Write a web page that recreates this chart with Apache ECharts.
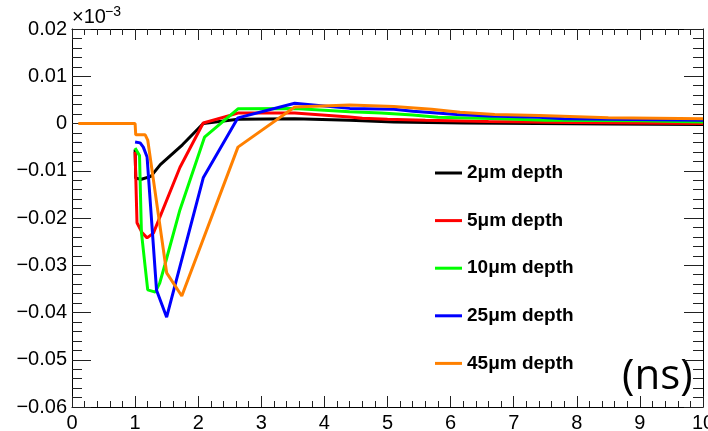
<!DOCTYPE html>
<html>
<head>
<meta charset="utf-8">
<script src="https://cdn.jsdelivr.net/npm/echarts@6/dist/echarts.min.js"></script>
<style>
html,body{margin:0;padding:0;background:#fff;}
#c{width:708px;height:431px;}
</style>
</head>
<body>
<div id="c"></div>
<script>
// ---- data (time in ns, signal in units of 10^-3) ----
var seriesNames = ['2\u03bcm depth', '5\u03bcm depth', '10\u03bcm depth', '25\u03bcm depth', '45\u03bcm depth'];
var seriesColors = ['#000000', '#ff0000', '#00ff00', '#0000ff', '#ff8000'];

var x2um = [1.0, 1.01, 1.1, 1.25, 1.4, 1.75, 2.08, 2.63, 3.53, 4.4, 5.1, 6.2, 8.5, 10];
var y2um = [-0.0055, -0.0116, -0.0118, -0.0112, -0.0087, -0.0045, 0.0, 0.0009, 0.0010, 0.0007, 0.0003, 0.0001, -0.0001, -0.0002];

var x5um = [1.0, 1.03, 1.11, 1.19, 1.29, 1.71, 2.08, 2.63, 3.53, 4.4, 4.6, 5.0, 5.6, 6.6, 7.9, 10];
var y5um = [-0.0060, -0.0210, -0.0231, -0.0242, -0.0232, -0.0093, 0.0001, 0.0022, 0.0022, 0.0014, 0.0011, 0.0009, 0.0007, 0.0004, 0.0002, 0.0];

var x10um = [1.0, 1.07, 1.1, 1.16, 1.2, 1.32, 1.39, 1.47, 1.71, 2.1, 2.63, 3.53, 4.4, 4.9, 5.4, 5.8, 6.8, 7.5, 9.0, 10];
var y10um = [-0.0052, -0.0068, -0.0230, -0.0304, -0.0352, -0.0357, -0.0338, -0.0300, -0.0183, -0.0029, 0.0031, 0.0032, 0.0025, 0.0022, 0.0018, 0.0013, 0.0010, 0.0007, 0.0006, 0.0003];

var x25um = [1.0, 1.08, 1.13, 1.19, 1.34, 1.5, 2.08, 2.63, 3.53, 4.4, 5.1, 5.4, 6.1, 6.6, 7.4, 7.8, 10];
var y25um = [-0.0039, -0.0041, -0.0050, -0.0071, -0.0353, -0.0410, -0.0115, 0.0012, 0.0043, 0.0032, 0.0030, 0.0026, 0.0019, 0.0016, 0.0013, 0.0010, 0.0007];

var x45um = [0.1, 1.0, 1.01, 1.16, 1.2, 1.5, 1.74, 2.63, 3.53, 4.4, 5.1, 5.7, 6.15, 6.7, 7.4, 8.5, 10];
var y45um = [0.0, 0.0, -0.0024, -0.0024, -0.0035, -0.0316, -0.0365, -0.0050, 0.0035, 0.0039, 0.0036, 0.0030, 0.0024, 0.0019, 0.0017, 0.0012, 0.0010];

var xs = [x2um, x5um, x10um, x25um, x45um];
var ys = [y2um, y5um, y10um, y25um, y45um];

var xMin = 0, xMax = 10, xStep = 1;
var yMin = -0.06, yMax = 0.02, yStep = 0.01;

function pairs(a, b) { return a.map(function (v, i) { return [v, b[i]]; }); }

var FONT = 'Liberation Sans';
function yFmt(v) {
  if (Math.abs(v) < 1e-9) return '0';
  return v.toFixed(2).replace('-', '\u2212');
}

var chart = echarts.init(document.getElementById('c'), null, {renderer: 'canvas'});

var axisCommon = {
  axisLine: {show: true, onZero: false, lineStyle: {color: '#000', width: 1}},
  splitLine: {show: false}
};
var tickColor = '#222';

var option = {
  animation: false,
  backgroundColor: '#ffffff',
  grid: {left: 72, top: 29, right: 5, bottom: 24, containLabel: false, outerBoundsMode: 'none'},
  xAxis: [
    Object.assign({
      type: 'value', position: 'bottom', min: xMin, max: xMax, interval: xStep,
      axisTick: {show: true, inside: true, length: 11, lineStyle: {color: tickColor}},
      minorTick: {show: true, splitNumber: 5, length: 6, lineStyle: {color: tickColor}},
      axisLabel: {show: true, color: '#000', fontFamily: FONT, fontSize: 20, margin: 6, showMaxLabel: true, hideOverlap: false}
    }, axisCommon),
    Object.assign({
      type: 'value', position: 'top', min: xMin, max: xMax, interval: xStep,
      axisTick: {show: true, inside: true, length: 11, lineStyle: {color: tickColor}},
      minorTick: {show: true, splitNumber: 5, length: 6, lineStyle: {color: tickColor}},
      axisLabel: {show: false}
    }, axisCommon)
  ],
  yAxis: [
    Object.assign({
      type: 'value', position: 'left', min: yMin, max: yMax, interval: yStep,
      axisTick: {show: true, inside: true, length: 19, lineStyle: {color: tickColor}},
      minorTick: {show: true, splitNumber: 5, length: 10, lineStyle: {color: tickColor}},
      axisLabel: {show: true, color: '#000', fontFamily: FONT, fontSize: 20, margin: 5, formatter: yFmt, hideOverlap: false}
    }, axisCommon),
    Object.assign({
      type: 'value', position: 'right', min: yMin, max: yMax, interval: yStep,
      axisTick: {show: true, inside: true, length: 19, lineStyle: {color: tickColor}},
      minorTick: {show: true, splitNumber: 5, length: 10, lineStyle: {color: tickColor}},
      axisLabel: {show: false}
    }, axisCommon)
  ],
  legend: {
    show: true,
    orient: 'vertical',
    left: 430,
    top: 158,
    icon: 'rect',
    itemWidth: 27,
    itemHeight: 3,
    itemGap: 27.6,
    textStyle: {fontFamily: FONT, fontSize: 19, fontWeight: 'bold', color: '#000', lineHeight: 20},
    data: seriesNames
  },
  graphic: [
    {
      type: 'text', x: 72, y: 27,
      style: {text: '\u00d710', fontFamily: FONT, fontSize: 20, fill: '#000', textVerticalAlign: 'bottom', verticalAlign: 'bottom'}
    },
    {
      type: 'text', x: 105, y: 19,
      style: {text: '\u22123', fontFamily: FONT, fontSize: 14, fill: '#000', textVerticalAlign: 'bottom', verticalAlign: 'bottom'}
    },
    {
      type: 'text', left: 622, top: 356,
      style: {text: '(ns)', fontFamily: 'Open Sans', fontSize: 42, fill: '#000'}
    }
  ],
  series: seriesNames.map(function (n, i) {
    return {
      name: n, type: 'line', xAxisIndex: 0, yAxisIndex: 0,
      data: pairs(xs[i], ys[i]),
      showSymbol: false, symbol: 'none', smooth: false, clip: true,
      color: seriesColors[i],
      itemStyle: {color: seriesColors[i]},
      lineStyle: {color: seriesColors[i], width: 3},
      z: 2 + i
    };
  })
};
chart.setOption(option);
</script>
</body>
</html>
